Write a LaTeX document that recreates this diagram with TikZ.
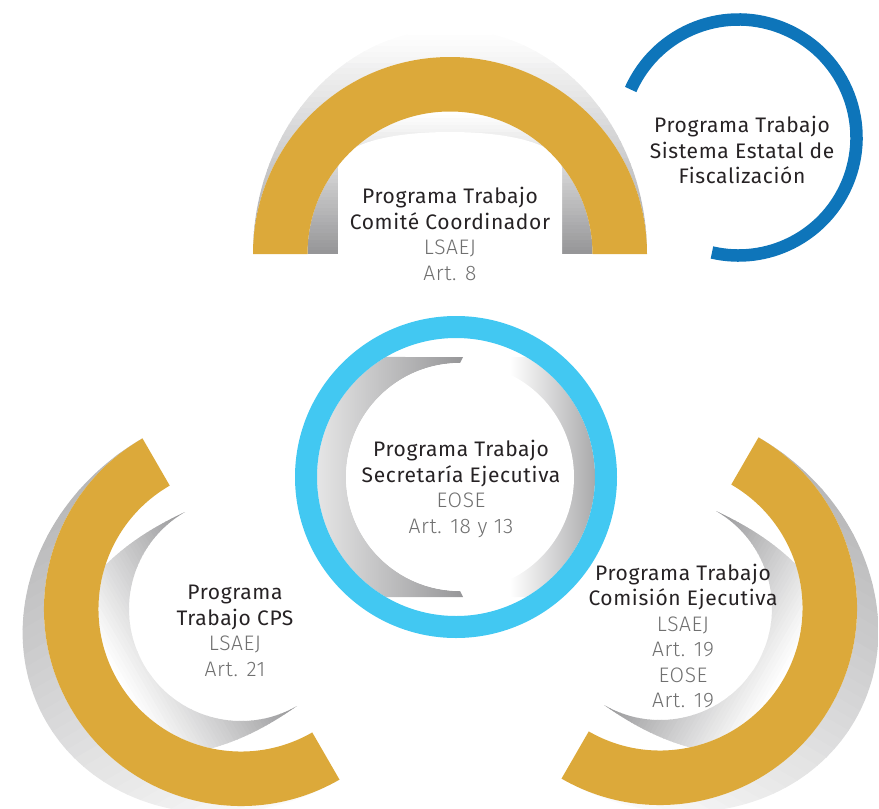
\documentclass[tikz,border=0pt]{standalone}
\usepackage{fontspec}
\setmainfont{Fira Sans}[LetterSpace=3]
\newfontfamily\lightfont{Fira Sans Light}[LetterSpace=3]
\definecolor{gold}{RGB}{220,169,58}
\definecolor{skyblue}{RGB}{66,200,242}
\definecolor{deepblue}{RGB}{14,117,186}
\definecolor{shadowgray}{RGB}{150,150,152}
\definecolor{textdark}{RGB}{38,34,36}
\definecolor{textlight}{RGB}{112,112,112}
\newcommand{\artref}[1]{{\lightfont\color{textlight}#1}}
% strips of grey along local y: #1 height, #2 strongest percentage at y=0
\newcommand{\ystrips}[2]{\foreach \k in {0,...,39}{\pgfmathtruncatemacro\pct{#2*(1-\k/39)}%
  \fill[shadowgray!\pct!white] (-240,#1*\k/40) rectangle (240,#1*\k/40+#1/40+0.6);}}
% strips of grey along local x: #1 = 1 (dark at right) or -1 (dark at left), #2 strongest percentage
\newcommand{\xstrips}[2]{\foreach \k in {0,...,39}{\pgfmathtruncatemacro\pct{#2*(1-\k/39)}%
  \fill[shadowgray!\pct!white] (#1*230-#1*11.5*\k,-10) rectangle (#1*230-#1*11.5*\k-#1*12.1,240);}}

\begin{document}
\begin{tikzpicture}[x=1pt,y=1pt,
  txt/.style={align=center,inner sep=0pt,text=textdark,font=\fontsize{21}{25.5}\selectfont}]
\useasboundingbox (0,0) rectangle (879,-809);
% top ring
\begin{scope}[shift={(450,-254)}]
\begin{scope}
\clip (0:197) arc[start angle=0,end angle=180,x radius=197,y radius=225] arc[start angle=180,end angle=0,radius=197] -- cycle;
\ystrips{225}{85}
\end{scope}
\begin{scope}
\clip (0:142.5) arc[start angle=0,end angle=180,radius=142.5] -- cycle;
\ystrips{143}{100}
\end{scope}
\fill[white] (-112,0) -- (-112,85) .. controls (-112,110) and (-60,122) .. (0,122) .. controls (60,122) and (112,110) .. (112,85) -- (112,0) -- cycle;
\fill[gold] (0:197) arc[start angle=0,end angle=180,radius=197] -- (180:142.5) arc[start angle=180,end angle=0,radius=142.5] -- cycle;
\end{scope}
% left ring
\begin{scope}[shift={(241,-609)},rotate=120]
\begin{scope}
\clip (0:197) arc[start angle=0,end angle=180,x radius=197,y radius=225] arc[start angle=180,end angle=0,radius=197] -- cycle;
\xstrips{1}{75}
\end{scope}
\begin{scope}
\clip (0:112) .. controls (14:118) and (28:130) .. (42:142.5) arc[start angle=42,end angle=138,radius=142.5] .. controls (152:130) and (166:118) .. (180:112) arc[start angle=180,end angle=0,radius=112] -- cycle;
\ystrips{143}{100}
\end{scope}
\fill[gold] (0:197) arc[start angle=0,end angle=180,radius=197] -- (180:142.5) arc[start angle=180,end angle=0,radius=142.5] -- cycle;
\end{scope}
% right ring
\begin{scope}[shift={(660,-608)},rotate=-120]
\begin{scope}
\clip (0:197) arc[start angle=0,end angle=180,x radius=197,y radius=225] arc[start angle=180,end angle=0,radius=197] -- cycle;
\xstrips{-1}{75}
\end{scope}
\begin{scope}
\clip (0:112) .. controls (14:118) and (28:130) .. (42:142.5) arc[start angle=42,end angle=138,radius=142.5] .. controls (152:130) and (166:118) .. (180:112) arc[start angle=180,end angle=0,radius=112] -- cycle;
\ystrips{143}{100}
\end{scope}
\fill[gold] (0:197) arc[start angle=0,end angle=180,radius=197] -- (180:142.5) arc[start angle=180,end angle=0,radius=142.5] -- cycle;
\end{scope}
% centre ring
\begin{scope}[shift={(456,-477)}]
\shade[left color=gray!12,right color=shadowgray] (7,120) -- (120.3:139) arc[start angle=120.3,end angle=239.7,radius=139] -- (7,-120) -- (4,-114) arc[start angle=-90,end angle=-270,radius=114] -- cycle;
\shade[left color=white,right color=shadowgray] (54,120) -- (59.7:139) arc[start angle=59.7,end angle=-59.7,radius=139] -- (54,-120) -- cycle;
\fill[white] (4,0) circle[radius=114];
\draw[skyblue,line width=22] (0,0) circle[radius=150];
\end{scope}
\draw[deepblue,line width=12.5] (738.5,-137.5) ++(156:118) arc[start angle=156,end angle=-103,radius=118];

\node[txt] (cc) at (450,-234) {Programa Trabajo\\Comité Coordinador\\\artref{LSAEJ}\\\artref{Art. 8}};
\node[txt] (sef) at (742,-150) {Programa Trabajo\\Sistema Estatal de\\Fiscalización};
\node[txt] (se) at (461,-489) {Programa Trabajo\\Secretaría Ejecutiva\\\artref{EOSE}\\\artref{Art. 18 y 13}};
\node[txt] (cps) at (235,-631) {Programa\\Trabajo CPS\\\artref{LSAEJ}\\\artref{Art. 21}};
\node[txt] (ce) at (683,-636) {Programa Trabajo\\Comisión Ejecutiva\\\artref{LSAEJ}\\\artref{Art. 19}\\\artref{EOSE}\\\artref{Art. 19}};
\end{tikzpicture}
\end{document}
